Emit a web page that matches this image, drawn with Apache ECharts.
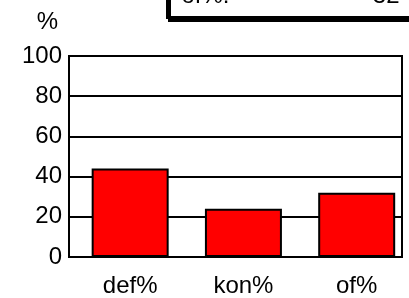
<!DOCTYPE html>
<html>
<head>
    <meta charset="utf-8">
    <script src="https://cdn.jsdelivr.net/npm/echarts@6/dist/echarts.min.js"></script>
    <style>
        html, body { margin: 0; padding: 0; background: #fff; }
    </style>
</head>
<body>
    <div id="main" style="width:409px; height:298px"></div>
    <script type="text/javascript">
        // chart data
        var categories = ['def%', 'kon%', 'of%'];
        var values = [44, 24, 32];
        var yTicks = [0, 20, 40, 60, 80, 100];
        var boxLabel = categories[2] + ':';
        var boxValue = String(values[2]);

        var font = 'Liberation Sans';
        var myChart = echarts.init(document.getElementById('main'));

        // bars sit on a numeric x axis (category index), so the plot frame can be uneven
        var barData = values.map(function (v, i) { return [i, v]; });
        var catIndex = categories.map(function (c, i) { return i; });

        var option = {
            animation: false,
            textStyle: { fontFamily: font },
            grid: {
                left: 69, right: 7, top: 56, bottom: 40,
                show: true,
                borderColor: '#000',
                borderWidth: 2
            },
            xAxis: {
                type: 'value',
                min: -0.54,
                max: 2.4,
                axisLine: { show: false, onZero: false },
                axisTick: { show: false },
                splitLine: { show: false },
                axisLabel: {
                    customValues: catIndex,
                    formatter: function (v) { return categories[Math.round(v)]; },
                    color: '#000',
                    fontSize: 24,
                    fontFamily: font,
                    margin: 17
                }
            },
            yAxis: {
                type: 'value',
                min: yTicks[0],
                max: yTicks[yTicks.length - 1],
                interval: 20,
                name: '%',
                nameGap: 22,
                nameTextStyle: {
                    color: '#000',
                    fontSize: 24,
                    fontFamily: font,
                    align: 'right',
                    padding: [0, 11, 0, 0]
                },
                axisLine: { show: true, onZero: false, lineStyle: { color: '#000', width: 2 } },
                axisTick: { show: false },
                axisLabel: {
                    color: '#000',
                    fontSize: 24,
                    fontFamily: font,
                    margin: 7
                },
                splitLine: { lineStyle: { color: '#000', width: 2 } }
            },
            series: [{
                type: 'bar',
                data: barData,
                barWidth: 77,
                itemStyle: {
                    color: '#ff0000',
                    borderColor: '#000',
                    borderWidth: 2
                }
            }],
            graphic: [{
                type: 'group',
                left: 166,
                top: -40,
                children: [{
                    type: 'rect',
                    shape: { x: 0, y: 0, width: 270, height: 56 },
                    style: {
                        fill: '#fff',
                        stroke: '#000',
                        lineWidth: 3,
                        shadowColor: '#000',
                        shadowOffsetX: 2,
                        shadowOffsetY: 3,
                        shadowBlur: 0
                    }
                }, {
                    type: 'text',
                    x: 14,
                    y: 47,
                    style: {
                        text: boxLabel,
                        font: '24px ' + font,
                        fill: '#000',
                        textVerticalAlign: 'bottom'
                    }
                }, {
                    type: 'text',
                    x: 232,
                    y: 47,
                    style: {
                        text: boxValue,
                        font: '24px ' + font,
                        fill: '#000',
                        textAlign: 'right',
                        textVerticalAlign: 'bottom'
                    }
                }]
            }]
        };
        myChart.setOption(option);
    </script>
</body>
</html>
